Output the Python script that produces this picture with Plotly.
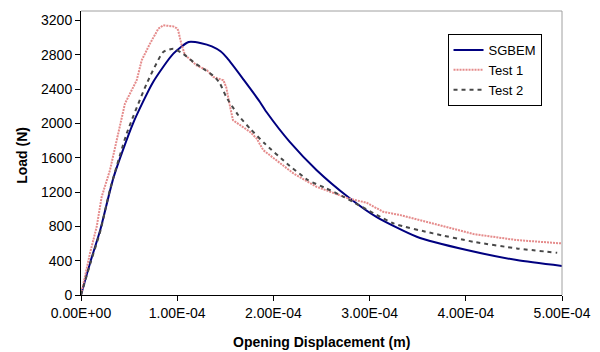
import plotly.graph_objects as go

# SGBEM (numerical)
sg_x = [0, 0.5e-5, 1.0e-5, 2.0e-5, 3.4e-5, 5.4e-5, 7.5e-5, 9.6e-5, 11.2e-5, 12.5e-5, 13.6e-5, 14.5e-5, 15.2e-5,
        16.9e-5, 18.6e-5, 19.3e-5, 21.7e-5, 24.5e-5, 27.8e-5, 30.7e-5, 34.9e-5, 40.1e-5, 45.3e-5, 50e-5]
sg_y = [0, 200, 395, 757, 1377, 1998, 2483, 2813, 2948, 2935, 2898, 2840, 2760,
        2510, 2250, 2130, 1785, 1455, 1140, 911, 679, 524, 407, 338]

# Test 1
t1_x = [0, 0.42e-5, 0.94e-5, 1.63e-5, 2.15e-5, 3.01e-5, 3.71e-5, 4.57e-5, 5.79e-5, 6.31e-5, 7.17e-5, 8.04e-5,
        8.55e-5, 9.6e-5, 9.95e-5, 10.1e-5, 10.3e-5, 10.47e-5, 10.8e-5, 12.0e-5, 13.1e-5, 13.75e-5, 14.8e-5,
        15.1e-5, 15.5e-5, 15.8e-5, 17.57e-5, 18.26e-5, 18.95e-5, 20.3e-5, 22.1e-5, 24.5e-5, 27.8e-5, 29.7e-5,
        31.4e-5, 33.2e-5, 36.6e-5, 40.8e-5, 45.3e-5, 50e-5]
t1_y = [0, 213, 489, 795, 1144, 1455, 1804, 2231, 2503, 2736, 2930, 3104,
        3143, 3131, 3110, 3085, 2988, 2910, 2800, 2677, 2619, 2541, 2503,
        2420, 2192, 2037, 1901, 1824, 1688, 1571, 1416, 1261, 1125, 1075,
        970, 931, 834, 710, 640, 601]

# Test 2
t2_x = [0, 1.0e-5, 2.0e-5, 3.0e-5, 4.75e-5, 6.83e-5, 8.55e-5, 9.6e-5, 10.6e-5, 11.67e-5, 12.7e-5, 13.9e-5,
        14.45e-5, 15.1e-5, 16.35e-5, 17.57e-5, 19.1e-5, 21.4e-5, 23.6e-5, 25.5e-5, 27.3e-5, 32.5e-5,
        36.6e-5, 40.8e-5, 45.3e-5, 49.5e-5]
t2_y = [0, 380, 740, 1222, 1882, 2464, 2832, 2871, 2813, 2716, 2638, 2541,
        2464, 2308, 2095, 1940, 1765, 1533, 1339, 1242, 1144, 834,
        718, 620, 543, 492]

x_tick_vals = [0, 1e-4, 2e-4, 3e-4, 4e-4, 5e-4]
x_tick_text = ["0.00E+00", "1.00E-04", "2.00E-04", "3.00E-04", "4.00E-04", "5.00E-04"]
y_tick_vals = [0, 400, 800, 1200, 1600, 2000, 2400, 2800, 3200]

FONT = "Liberation Sans, Arial, sans-serif"

fig = go.Figure()
fig.add_trace(go.Scatter(x=sg_x, y=sg_y, mode="lines", name="SGBEM",
                         line=dict(color="#000080", width=2, shape="spline", smoothing=0.6)))
fig.add_trace(go.Scatter(x=t1_x, y=t1_y, mode="lines", name="Test 1",
                         line=dict(color="#e58c8c", width=2, dash="2px,1px")))
fig.add_trace(go.Scatter(x=t2_x, y=t2_y, mode="lines", name="Test 2",
                         line=dict(color="#484848", width=2, dash="4px,4px", shape="spline", smoothing=0.5)))

fig.update_layout(
    width=600, height=352,
    margin=dict(l=81, r=38, t=11, b=57),
    paper_bgcolor="white", plot_bgcolor="white",
    font=dict(family=FONT, size=14, color="black"),
    showlegend=True,
    legend=dict(x=0.762, y=0.919, xanchor="left", yanchor="top",
                bordercolor="black", borderwidth=1, bgcolor="white",
                font=dict(size=13), tracegroupgap=0, itemwidth=30),
    xaxis=dict(range=[0, 5e-4], tickvals=x_tick_vals, ticktext=x_tick_text,
               showgrid=False, zeroline=False, showline=True, linecolor="black", linewidth=1,
               ticks="outside", ticklen=5, tickcolor="black", automargin=False),
    yaxis=dict(range=[0, 3310], tickvals=y_tick_vals,
               showgrid=False, zeroline=False, showline=True, linecolor="black", linewidth=1,
               ticks="outside", ticklen=5, tickcolor="black", automargin=False),
    shapes=[
        dict(type="line", xref="paper", yref="paper", x0=0, x1=1, y0=1, y1=1,
             line=dict(color="#a0a0a0", width=1)),
        dict(type="line", xref="paper", yref="paper", x0=1, x1=1, y0=0, y1=1,
             line=dict(color="#a0a0a0", width=1)),
    ],
    annotations=[
        dict(text="<b>Opening Displacement (m)</b>", xref="paper", yref="paper",
             x=0.5, y=0, xanchor="center", yanchor="middle", yshift=-47,
             showarrow=False, font=dict(size=14, family=FONT)),
        dict(text="<b>Load (N)</b>", xref="paper", yref="paper", textangle=-90,
             x=0, y=0.49, xanchor="center", yanchor="middle", xshift=-59,
             showarrow=False, font=dict(size=14, family=FONT)),
    ],
)

fig.write_html("out.html", config={"displayModeBar": False},
               post_script="document.body.style.margin='0';document.body.style.padding='0';")
